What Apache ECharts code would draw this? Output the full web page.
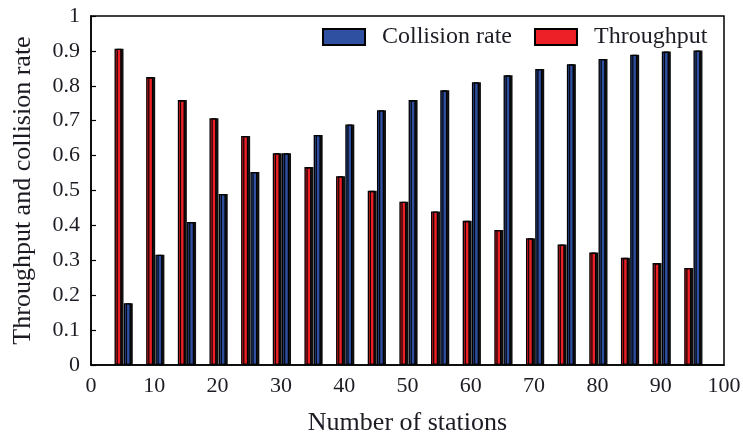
<!DOCTYPE html>
<html>
<head>
<meta charset="utf-8">
<script src="https://cdn.jsdelivr.net/npm/echarts@6/dist/echarts.min.js"></script>
<style>
  html, body { margin: 0; padding: 0; background: #fff; }
  #chart { width: 743px; height: 438px; }
</style>
</head>
<body>
<div id="chart"></div>
<script>
// Number of stations on the x axis
const stations = [5, 10, 15, 20, 25, 30, 35, 40, 45, 50, 55, 60, 65, 70, 75, 80, 85, 90, 95];
// Normalised throughput per station count
const throughput = [0.906, 0.825, 0.759, 0.707, 0.656, 0.607, 0.567, 0.541, 0.499, 0.468,
                    0.440, 0.413, 0.387, 0.363, 0.345, 0.322, 0.307, 0.292, 0.278];
// Collision rate per station count
const collisionRate = [0.177, 0.316, 0.410, 0.490, 0.553, 0.607, 0.659, 0.689, 0.730, 0.759,
                       0.787, 0.810, 0.830, 0.848, 0.862, 0.877, 0.889, 0.898, 0.901];

const FONT = '"Liberation Serif", "DejaVu Serif", serif';
const TEXT = '#1c1c24';

const pairs = (ys) => stations.map((x, i) => [x, ys[i]]);

const barStyle = (color) => ({
  color: color,
  borderColor: '#000',
  borderWidth: 1.3,
  shadowColor: 'rgba(0,0,0,0.9)',
  shadowOffsetX: 2,
  shadowOffsetY: 0,
  shadowBlur: 0
});

const chart = echarts.init(document.getElementById('chart'), null, { renderer: 'canvas' });
chart.setOption({
  animation: false,
  backgroundColor: '#fff',
  grid: {
    left: 91, right: 19, top: 16, bottom: 73,
    outerBoundsMode: 'none',
    show: true, borderColor: '#000', borderWidth: 1.5, backgroundColor: 'transparent'
  },
  legend: {
    data: ['Collision rate', 'Throughput'],
    left: 317, top: 20,
    icon: 'rect',
    itemWidth: 42, itemHeight: 16, itemGap: 22,
    textStyle: { fontFamily: FONT, fontSize: 24, color: TEXT, padding: [0, 0, 0, 12] }
  },
  xAxis: {
    type: 'value', min: 0, max: 100, interval: 10,
    axisLine: { show: true, lineStyle: { color: '#000', width: 1.5 } },
    axisTick: { show: false },
    splitLine: { show: false },
    axisLabel: { fontFamily: FONT, fontSize: 22, color: TEXT, margin: 10 },
    name: 'Number of stations', nameLocation: 'middle', nameGap: 45,
    nameTextStyle: { fontFamily: FONT, fontSize: 26, color: TEXT }
  },
  yAxis: {
    type: 'value', min: 0, max: 1, interval: 0.1,
    axisLine: { show: true, lineStyle: { color: '#000', width: 1.5 } },
    axisTick: { show: true, inside: true, length: 5, lineStyle: { color: '#000', width: 1.2 } },
    splitLine: { show: false },
    axisLabel: { fontFamily: FONT, fontSize: 22, color: TEXT, margin: 11 },
    name: 'Throughput and collision rate', nameLocation: 'middle', nameGap: 55,
    nameTextStyle: { fontFamily: FONT, fontSize: 26, color: TEXT }
  },
  series: [
    {
      name: 'Throughput', type: 'bar', data: pairs(throughput),
      barWidth: 7, barGap: '32%', itemStyle: barStyle('#ED2027')
    },
    {
      name: 'Collision rate', type: 'bar', data: pairs(collisionRate),
      barWidth: 7, barGap: '32%', itemStyle: barStyle('#2F4FA0')
    }
  ]
});
</script>
</body>
</html>
